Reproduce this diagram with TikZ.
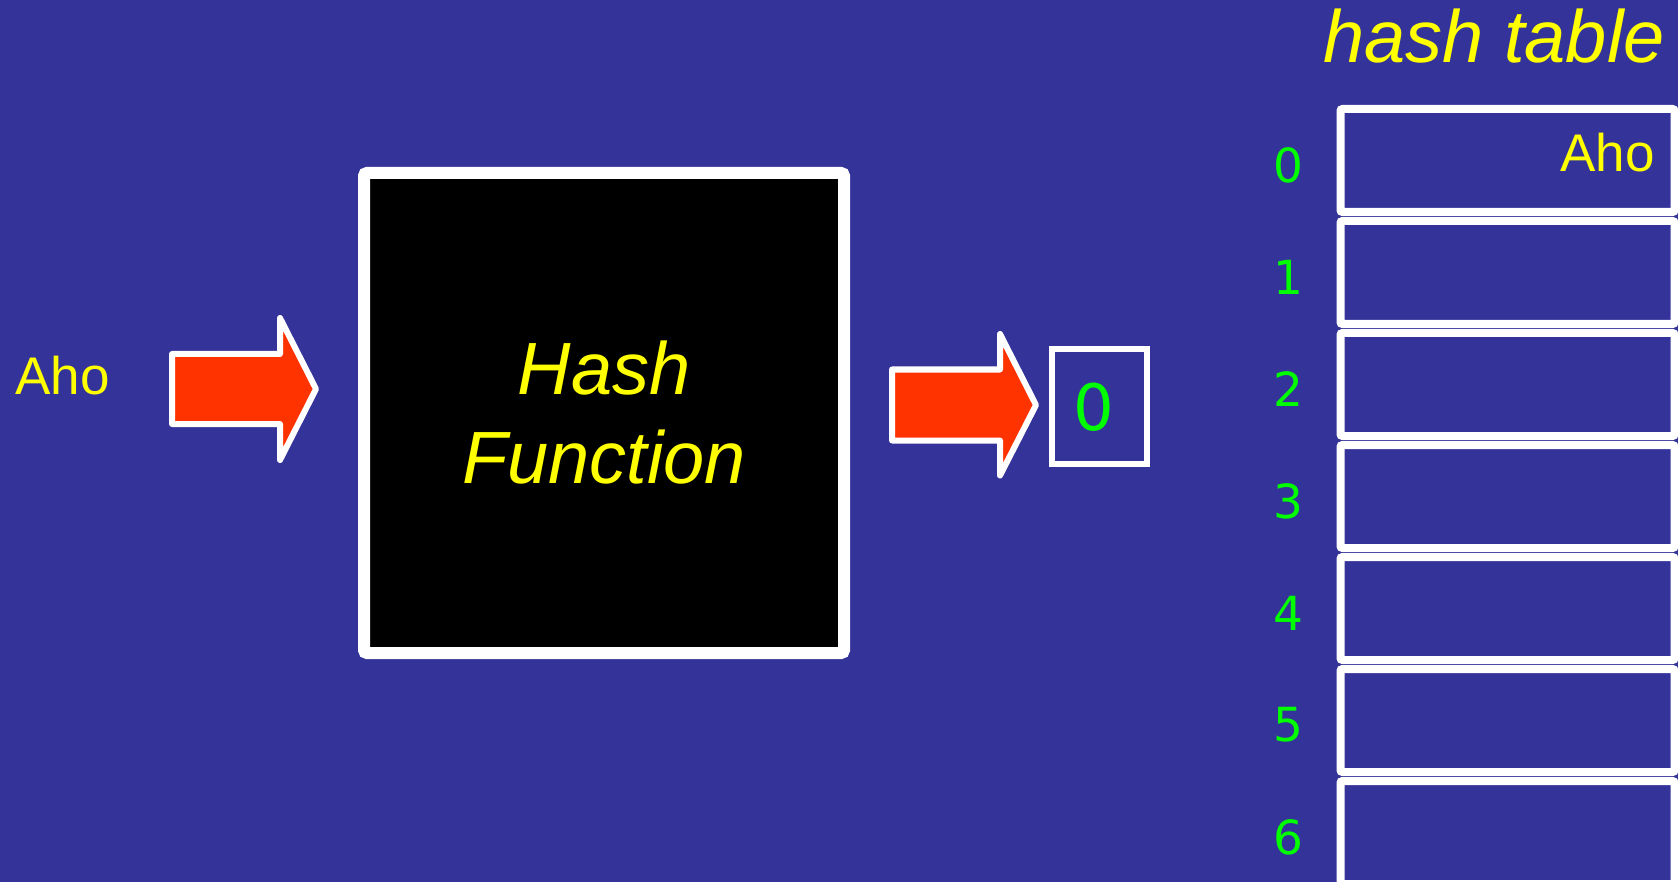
\documentclass[tikz,border=0pt]{standalone}
\usepackage{fontspec}
\setmainfont{Liberation Sans}
\newfontfamily\chiffres{DejaVu Sans}
\usetikzlibrary{arrows.meta}
\definecolor{fond}{HTML}{333399}
\definecolor{rouge}{HTML}{FF3300}
\definecolor{jaune}{HTML}{FFFF00}
\definecolor{vert}{HTML}{00FF00}

\begin{document}
\begin{tikzpicture}[x=1pt,y=-1pt]
%fond
\fill[fond] (0,0) rectangle (1678,882);
\useasboundingbox (0,0) rectangle (1678,882);
\clip (0,0) rectangle (1678,882);
%styledesnœuds
\tikzstyle{boite}=[rectangle,draw=white,fill=black,line width=12pt,rounded corners=3pt,
minimum width=480pt,minimum height=480pt,inner sep=0pt,text=jaune,align=center,
font=\fontsize{74}{89}\selectfont\itshape]
\tikzstyle{case}=[rectangle,draw=white,line width=8pt,rounded corners=2pt,
minimum width=334pt,minimum height=103pt,inner sep=0pt]
\tikzstyle{indice}=[text=vert,font=\chiffres\fontsize{47}{50}\selectfont]
\tikzstyle{cle}=[text=jaune,font=\fontsize{53}{60}\selectfont,inner sep=0pt]
%styledesflèches
\tikzstyle{grosse}=[draw=white,fill=rouge,line width=6pt,line join=round]
%placementdesnœuds
\node[cle,anchor=base west] (entree) at (15,395) {Aho};
\node[boite] (hachage) at (604,413) {Hash\\Function};
\node[rectangle,draw=white,line width=6pt,minimum width=95pt,minimum height=115pt,
inner sep=0pt] (resultat) at (1099.5,406.5) {};
\node[text=vert,font=\chiffres\fontsize{64}{70}\selectfont] (valeur) at (1094,407) {0};
\node[text=jaune,font=\fontsize{74}{80}\selectfont\itshape,inner sep=0pt,anchor=base west]
(titre) at (1323,63) {hash table};
\foreach \i in {0,...,6}{
  \node[case] (case\i) at (1507.5,{160.5+112*\i}) {};
  \node[indice] (ind\i) at (1288,{165+112*\i}) {\i};
}
\node[cle,anchor=base east] (contenu) at (1655,172) {Aho};
%placementdesflèches
\coordinate (f1) at (172,389);
\coordinate (f2) at (892,405);
\draw[grosse] (f1) ++(0,-35) -- ++(108,0) -- ++(0,-36) -- (f1 -| 316,0) -- ++(-36,71)
  -- ++(0,-36) -- ++(-108,0) -- cycle;
\draw[grosse] (f2) ++(0,-35.5) -- ++(108,0) -- ++(0,-35.5) -- (f2 -| 1036,0) -- ++(-36,70.5)
  -- ++(0,-35) -- ++(-108,0) -- cycle;
\end{tikzpicture}
\end{document}
